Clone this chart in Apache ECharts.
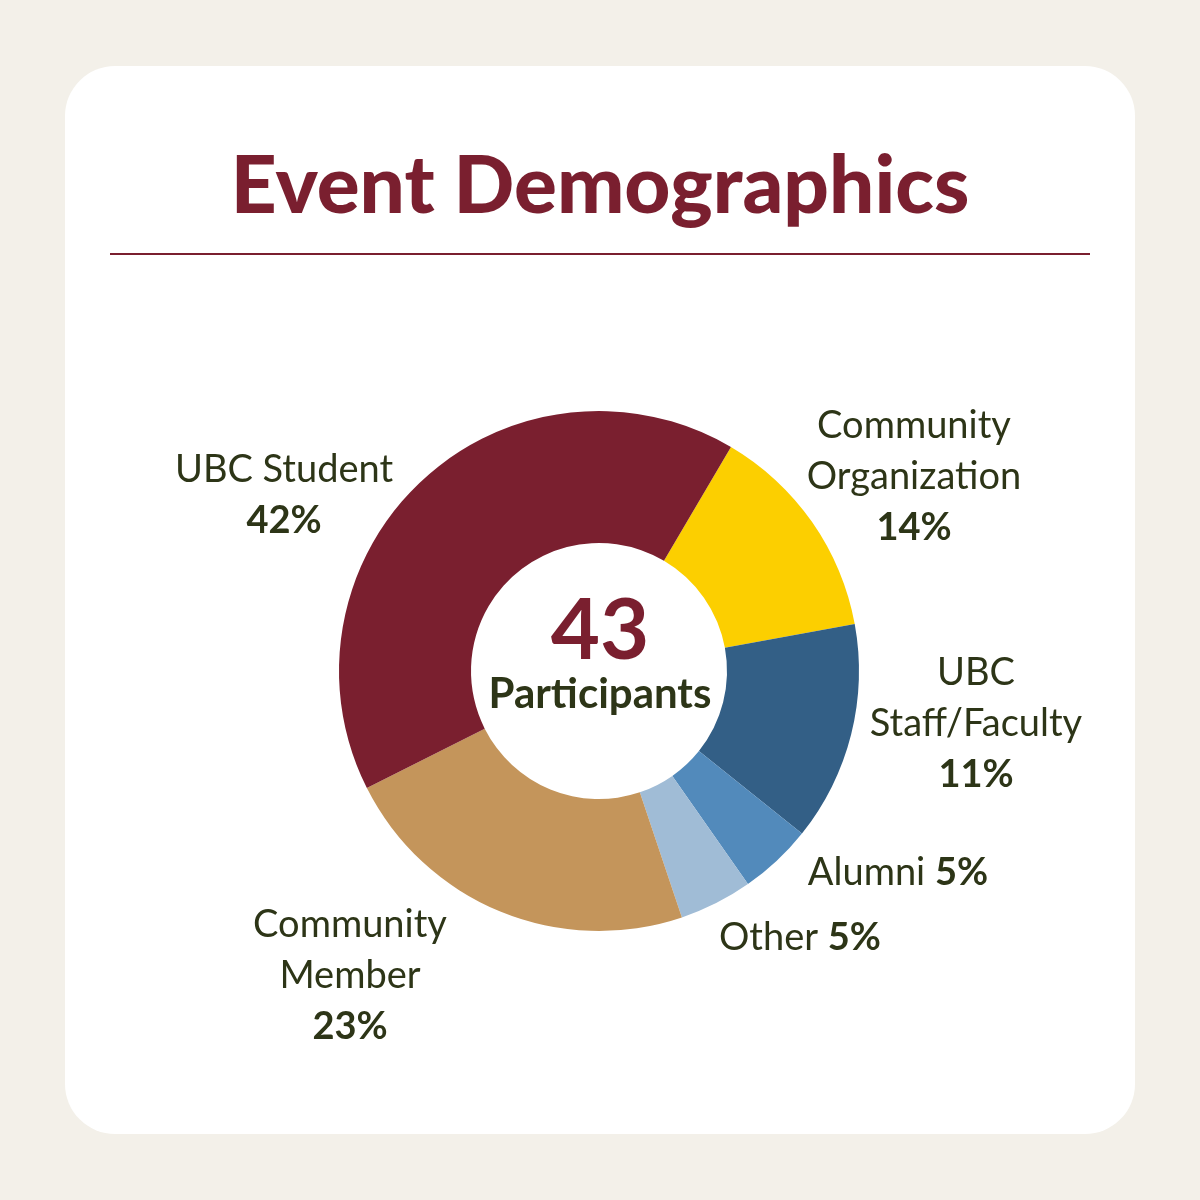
<!DOCTYPE html>
<html>
<head>
<meta charset="utf-8">
<title>Event Demographics</title>
<script src="https://cdn.jsdelivr.net/npm/echarts@6/dist/echarts.min.js"></script>
<style>
  html, body { margin: 0; padding: 0; background: #f3f0e9; }
  #chart { width: 1200px; height: 1200px; }
</style>
</head>
<body>
<div id="chart"></div>
<script>
// slice data (clockwise from the top-right)
const categories = ['Community\nOrganization', 'UBC\nStaff/Faculty', 'Alumni', 'Other', 'Community\nMember', 'UBC Student'];
const counts = [6, 6, 2, 2, 10, 18];
const percentLabels = ['14%', '11%', '5%', '5%', '23%', '42%'];
const colors = ['#fccf00', '#335f86', '#528abb', '#a0bcd6', '#c4955b', '#7a1f2f'];
const totalParticipants = '43';

// where each label block sits (centre of the block)
const labelPos = [[914, 477], [976, 724], [898, 873], [800, 938], [350, 976], [284, 495]];
const inlineLabel = [false, false, true, true, false, false];

const chart = echarts.init(document.getElementById('chart'));

const data = categories.map((c, i) => ({
  name: c,
  value: counts[i],
  itemStyle: { color: colors[i] }
}));

const option = {
  backgroundColor: '#f3f0e9',
  animation: false,
  graphic: [
    {
      type: 'rect', z: 0,
      shape: { x: 65, y: 66, width: 1070, height: 1068, r: 50 },
      style: { fill: '#ffffff' }
    },
    {
      type: 'text', z: 5,
      left: 'center', top: 147,
      style: {
        text: 'Event Demographics',
        font: '900 80px Lato',
        fill: '#7a1f2f'
      }
    },
    {
      type: 'line', z: 5,
      shape: { x1: 110, y1: 254, x2: 1090, y2: 254 },
      style: { stroke: '#7a1f2f', lineWidth: 2 }
    },
    {
      type: 'text', z: 5,
      x: 600, y: 632,
      style: {
        text: totalParticipants,
        font: 'bold 85px Lato',
        fill: '#7a1f2f',
        align: 'center', verticalAlign: 'middle'
      }
    },
    {
      type: 'text', z: 5,
      x: 600, y: 694,
      style: {
        text: 'Participants',
        font: 'bold 42px Lato',
        fill: '#2d3517',
        align: 'center', verticalAlign: 'middle'
      }
    }
  ],
  series: [{
    type: 'pie',
    center: [599, 671],
    radius: [128, 260],
    startAngle: 59.5,
    clockwise: true,
    silent: true,
    data: data,
    labelLine: { show: false },
    label: {
      show: true,
      position: 'outside',
      align: 'center',
      formatter: p => {
        const i = p.dataIndex;
        if (inlineLabel[i]) return '{n|' + p.name + ' }{p|' + percentLabels[i] + '}';
        const lines = p.name.split('\n').map(s => '{n|' + s + '}');
        return lines.join('\n') + '\n{p|' + percentLabels[i] + '}';
      },
      rich: {
        n: { fontFamily: 'Lato', fontSize: 38, color: '#2d3517', lineHeight: 51, align: 'center' },
        p: { fontFamily: 'Lato', fontWeight: 'bold', fontSize: 38, color: '#2d3517', lineHeight: 51, align: 'center' }
      }
    },
    labelLayout: params => ({
      x: labelPos[params.dataIndex][0],
      y: labelPos[params.dataIndex][1],
      align: 'center',
      verticalAlign: 'middle'
    })
  }]
};

chart.setOption(option);
</script>
</body>
</html>
